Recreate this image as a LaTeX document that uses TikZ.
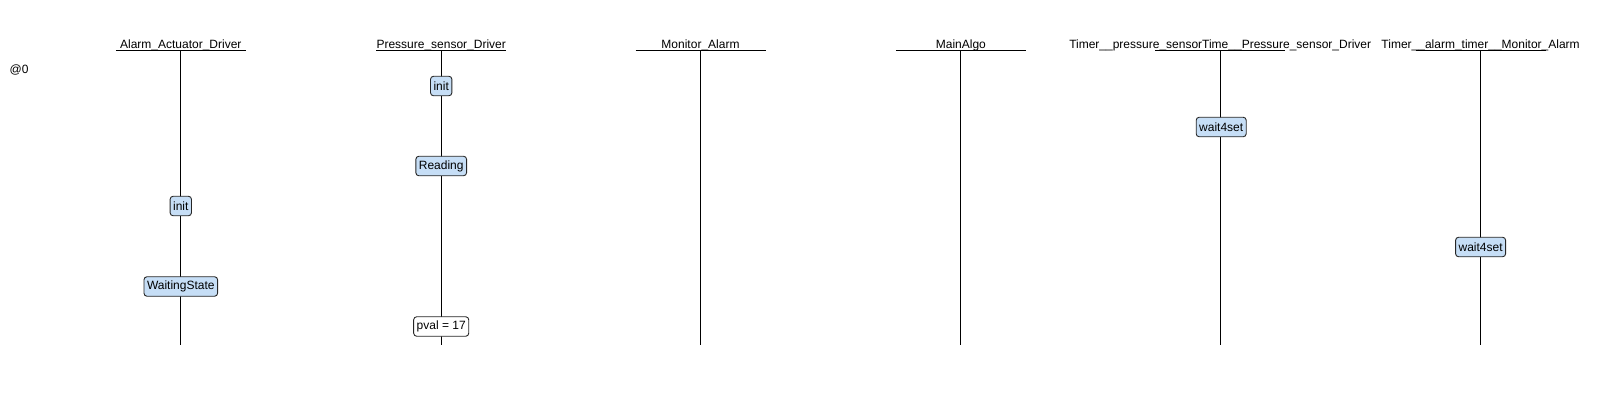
\documentclass[tikz,border=0pt]{standalone}
\usepackage{fontspec}
\setmainfont{Liberation Sans}
\definecolor{stblue}{RGB}{198,222,246}
\begin{document}
\begin{tikzpicture}[x=1pt,y=-1pt,
  lbl/.style={font=\fontsize{12}{14}\selectfont, inner sep=0pt, anchor=base},
  hline/.style={line width=1.2pt},
  life/.style={line width=0.9pt},
  stbox/.style={draw=black!85, line width=0.9pt, rounded corners=3pt, fill=stblue,
    inner xsep=3pt, inner ysep=0pt, minimum height=19.5pt,
    font=\fontsize{12}{14}\selectfont},
  valbox/.style={stbox, fill=white},
]
\useasboundingbox (0,0) rectangle (1620,405);
\node[lbl] (at0) at (19,73) {@0};
% lifelines
\foreach \n/\x/\t in {A/180.8/Alarm\_Actuator\_Driver,
                      P/441.2/Pressure\_sensor\_Driver,
                      M/700.5/Monitor\_Alarm,
                      G/960.9/MainAlgo,
                      T/1220.2/Timer\_\_pressure\_sensorTime\_\_Pressure\_sensor\_Driver,
                      U/1480.6/Timer\_\_alarm\_timer\_\_Monitor\_Alarm}{
  \node[lbl] (h\n) at (\x,48) {\t};
  \coordinate (l\n) at (\x-65,50.5);
  \coordinate (r\n) at (\x+65,50.5);
  \coordinate (t\n) at (\x,50.5);
  \coordinate (b\n) at (\x,345);
  \draw[hline] (l\n) -- (r\n);
  \draw[life] (t\n) -- (b\n);
}
% states
\node[stbox] (aInit) at (180.8,206) {init};
\node[stbox] (aWait) at (180.8,286.5) {WaitingState};
\node[stbox] (pInit) at (441.2,86) {init};
\node[stbox] (pRead) at (441.2,166) {Reading};
\node[valbox] (pVal) at (441.2,326.5) {pval = 17};
\node[stbox] (tWait) at (1221.2,127) {wait4set};
\node[stbox] (uWait) at (1480.6,247) {wait4set};
\end{tikzpicture}
\end{document}
